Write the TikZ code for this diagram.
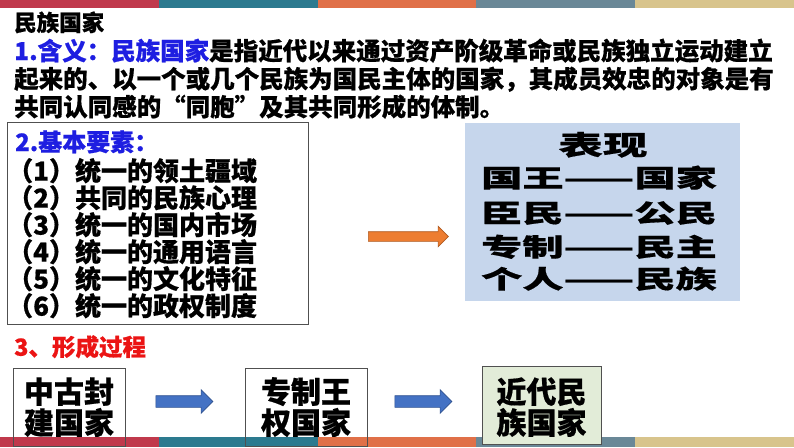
\documentclass[tikz,border=0pt]{standalone}
\usepackage{fontspec}
\setmainfont{Noto Sans CJK SC}[BoldFeatures={FakeBold=0.6}]
\newfontfamily\panelfont{Noto Sans CJK SC}[FakeStretch=1.65,BoldFeatures={FakeBold=0.6}]
\usetikzlibrary{shapes.arrows}
\definecolor{barA}{RGB}{192,57,76}
\definecolor{barB}{RGB}{44,122,143}
\definecolor{barC}{RGB}{224,112,72}
\definecolor{barD}{RGB}{106,136,151}
\definecolor{barE}{RGB}{216,196,140}
\definecolor{tblue}{RGB}{30,30,225}
\definecolor{tred}{RGB}{235,20,20}
\definecolor{panelblue}{RGB}{198,214,236}
\definecolor{boxgreen}{RGB}{226,236,216}
\definecolor{boxgray}{RGB}{80,80,80}
\definecolor{aorange}{RGB}{237,125,49}
\definecolor{aorangedk}{RGB}{174,90,33}
\definecolor{ablue}{RGB}{68,114,196}
\definecolor{abluedk}{RGB}{47,82,143}
\newcommand\myfs[1]{\fontsize{#1}{#1}\selectfont}
\begin{document}
\begin{tikzpicture}[x=1pt,y=-1pt,
  txt/.style={inner sep=0, anchor=base west},
  ctxt/.style={inner sep=0, anchor=base},
  frame/.style={draw=boxgray, line width=0.9, inner sep=0, anchor=north west},
  blockarrow/.style={single arrow, inner xsep=0, line width=0.6, single arrow head indent=0}]
\useasboundingbox (0,0) rectangle (794,447);
% colour bars
\foreach \c [count=\i from 0] in {barA,barB,barC,barD,barE} {
  \fill[\c] (\i*158.8,0) rectangle ++(158.8,8);
  \fill[\c] (\i*158.8,437) rectangle ++(158.8,10);
}
% heading text
\node[txt, font=\bfseries\myfs{22.5}] (title) at (14,31) {民族国家};
\node[txt, font=\bfseries\myfs{24.5}] (l1) at (14,60) {\textcolor{tblue}{1.含义：民族国家}是指近代以来通过资产阶级革命或民族独立运动建立};
\node[txt, font=\bfseries\myfs{24.5}] (l2) at (14,88) {起来的、以一个或几个民族为国民主体的国家，其成员效忠的对象是有};
\node[txt, font=\bfseries\myfs{24.5}] (l3) at (14,116) {共同认同感的“同胞”及其共同形成的体制。};
% elements box
\node[frame, fill=white, minimum width=301, minimum height=202] (elems) at (7,122) {};
\node[txt, font=\bfseries\myfs{24}, text=tblue] (eh) at (15,151) {2.基本要素：};
\node[txt, font=\bfseries\myfs{26}] (e1) at (7,180.6) {（1）统一的领土疆域};
\node[txt, font=\bfseries\myfs{26}] (e2) at (7,207.6) {（2）共同的民族心理};
\node[txt, font=\bfseries\myfs{26}] (e3) at (7,234.6) {（3）统一的国内市场};
\node[txt, font=\bfseries\myfs{26}] (e4) at (7,261.6) {（4）统一的通用语言};
\node[txt, font=\bfseries\myfs{26}] (e5) at (7,288.6) {（5）统一的文化特征};
\node[txt, font=\bfseries\myfs{26}] (e6) at (7,315.6) {（6）统一的政权制度};
% orange arrow
\node[blockarrow, fill=aorange, draw=aorangedk, inner ysep=4.5, minimum height=80, single arrow head extend=5.5] (oarrow) at (406,236.5) {};
% panel
\node[inner sep=0, anchor=north west, fill=panelblue, minimum width=275, minimum height=178] (panel) at (465,123) {};
\node[ctxt, font=\panelfont\bfseries\myfs{27}] (ph) at (603,155) {表现};
\node[ctxt, font=\panelfont\bfseries\myfs{25}] (p1) at (599,187.3) {国王——国家};
\node[ctxt, font=\panelfont\bfseries\myfs{25}] (p2) at (599,222.3) {臣民——公民};
\node[ctxt, font=\panelfont\bfseries\myfs{25}] (p3) at (599,256.3) {专制——民主};
\node[ctxt, font=\panelfont\bfseries\myfs{25}] (p4) at (599,288.3) {个人——民族};
% process
\node[txt, font=\bfseries\myfs{23.5}, text=tred] (proc) at (14,355.7) {3、形成过程};
\node[frame, minimum width=112, minimum height=78] (b1) at (13,368) {};
\node[frame, minimum width=122, minimum height=78] (b2) at (245,368) {};
\node[frame, fill=boxgreen, minimum width=119, minimum height=78] (b3) at (482,366) {};
\node[ctxt, font=\bfseries\myfs{30}] (b1a) at (69,403) {中古封};
\node[ctxt, font=\bfseries\myfs{30}] (b1b) at (69,434) {建国家};
\node[ctxt, font=\bfseries\myfs{30}] (b2a) at (306,403) {专制王};
\node[ctxt, font=\bfseries\myfs{30}] (b2b) at (306,434) {权国家};
\node[ctxt, font=\bfseries\myfs{30}] (b3a) at (541.5,403) {近代民};
\node[ctxt, font=\bfseries\myfs{30}] (b3b) at (541.5,434) {族国家};
\node[blockarrow, fill=ablue, draw=abluedk, inner ysep=5.5, minimum height=57, single arrow head extend=6] (ba1) at (181.5,401.5) {};
\node[blockarrow, fill=ablue, draw=abluedk, inner ysep=5.5, minimum height=57, single arrow head extend=6] (ba2) at (420.5,401.5) {};
\end{tikzpicture}
\end{document}
